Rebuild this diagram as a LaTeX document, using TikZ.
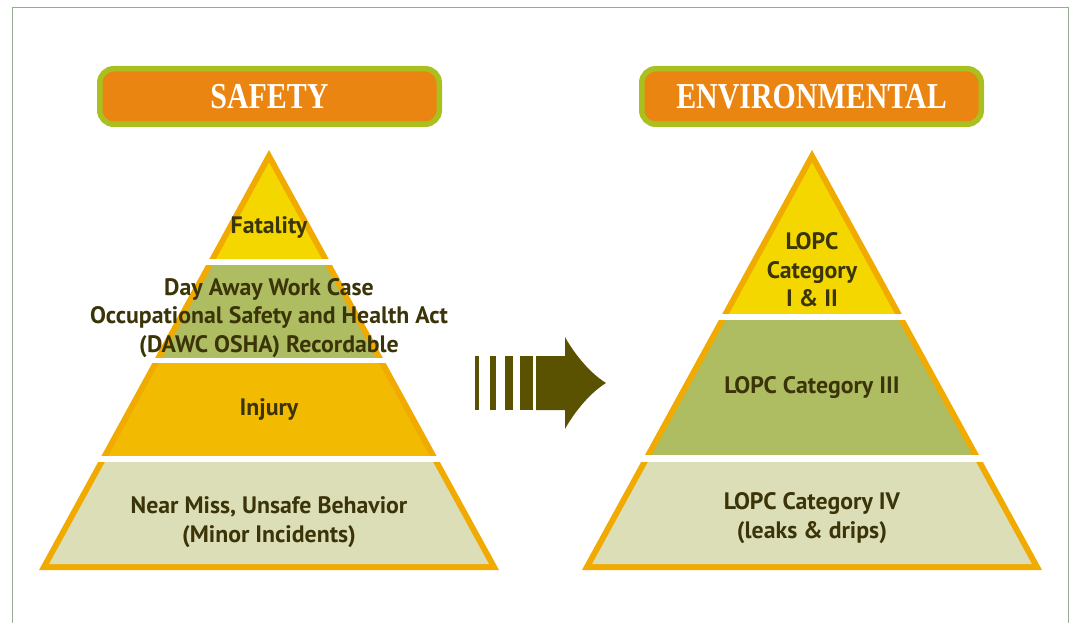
\documentclass[tikz,border=0pt]{standalone}
\usepackage{fontspec}
\newfontfamily\lblfont{PT Sans}
\newfontfamily\headfont[FakeStretch=0.82]{Liberation Serif}
\definecolor{frame}{RGB}{150,172,146}
\definecolor{bord}{RGB}{240,170,0}
\definecolor{cyel}{RGB}{245,215,0}
\definecolor{colive}{RGB}{175,189,98}
\definecolor{cinj}{RGB}{242,186,0}
\definecolor{cpale}{RGB}{220,222,184}
\definecolor{txt}{RGB}{58,52,8}
\definecolor{arrowc}{RGB}{90,82,0}
\definecolor{hfill}{RGB}{235,133,18}
\definecolor{hbord}{RGB}{170,192,30}
\tikzset{
  header/.style={draw=hbord, line width=5.5pt, fill=hfill, rounded corners=14pt,
    minimum width=339.5pt, minimum height=55.5pt, inner sep=0pt,
    text=white, font=\headfont\bfseries\fontsize{36.5}{40}\selectfont},
  lbl/.style={text=txt, align=center, inner sep=0pt,
    font=\lblfont\bfseries\fontsize{23.8}{28.5}\selectfont},
  gap/.style={fill=white},
}
\begin{document}
\begin{tikzpicture}[x=1pt,y=-1pt]
\clip (0,0) rectangle (1074,623);
\fill[white] (0,0) rectangle (1074,623);
\draw[frame, line width=1.5pt] (12.5,7.5) rectangle (1068.5,650);

% headers
\node[header] (hsafe) at (269.5,96.5) {SAFETY};
\node[header] (henv) at (811.5,96.5) {ENVIRONMENTAL};

% left pyramid
\fill[bord] (269,150) -- (499,570) -- (39,570) -- cycle;
\begin{scope}
  \clip (269,162.4) -- (488.9,564) -- (49.1,564) -- cycle;
  \fill[cyel] (0,140) rectangle (540,262);
  \fill[colive] (0,262) rectangle (540,360);
  \fill[cinj] (0,360) rectangle (540,459);
  \fill[cpale] (0,459) rectangle (540,580);
\end{scope}
\fill[gap] (20,259) rectangle (520,264.5);
\fill[gap] (20,357.5) rectangle (520,363);
\fill[gap] (20,456) rectangle (520,462);

% right pyramid
\fill[bord] (812,150) -- (1042,570) -- (582,570) -- cycle;
\begin{scope}
  \clip (812,162.4) -- (1031.9,564) -- (592.1,564) -- cycle;
  \fill[cyel] (560,140) rectangle (1070,317);
  \fill[colive] (560,317) rectangle (1070,458);
  \fill[cpale] (560,458) rectangle (1070,580);
\end{scope}
\fill[gap] (560,313.5) rectangle (1065,320);
\fill[gap] (560,455) rectangle (1065,461.5);

% arrow
\fill[arrowc] (475,356) rectangle (479,410);
\fill[arrowc] (490,356) rectangle (496,410);
\fill[arrowc] (505,356) rectangle (513,410);
\fill[arrowc] (520,356) rectangle (533,410);
\fill[arrowc] (536,356) -- (565,356) -- (565,337)
  .. controls (572,350) and (588,372) .. (606,383)
  .. controls (588,394) and (572,416) .. (565,429)
  -- (565,410) -- (536,410) -- cycle;

% labels
\node[lbl] (fat) at (269,227) {Fatality};
\node[lbl] (dawc) at (269,318) {Day Away Work Case\\Occupational Safety and Health Act\\(DAWC OSHA) Recordable};
\node[lbl] (inj) at (269,410) {Injury};
\node[lbl] (near) at (269,522) {Near Miss, Unsafe Behavior\\(Minor Incidents)};
\node[lbl] (l12) at (812,270) {LOPC\\Category\\I \& II};
\node[lbl] (l3) at (812,388) {LOPC Category III};
\node[lbl] (l4) at (812,518) {LOPC Category IV\\(leaks \& drips)};
\end{tikzpicture}
\end{document}
